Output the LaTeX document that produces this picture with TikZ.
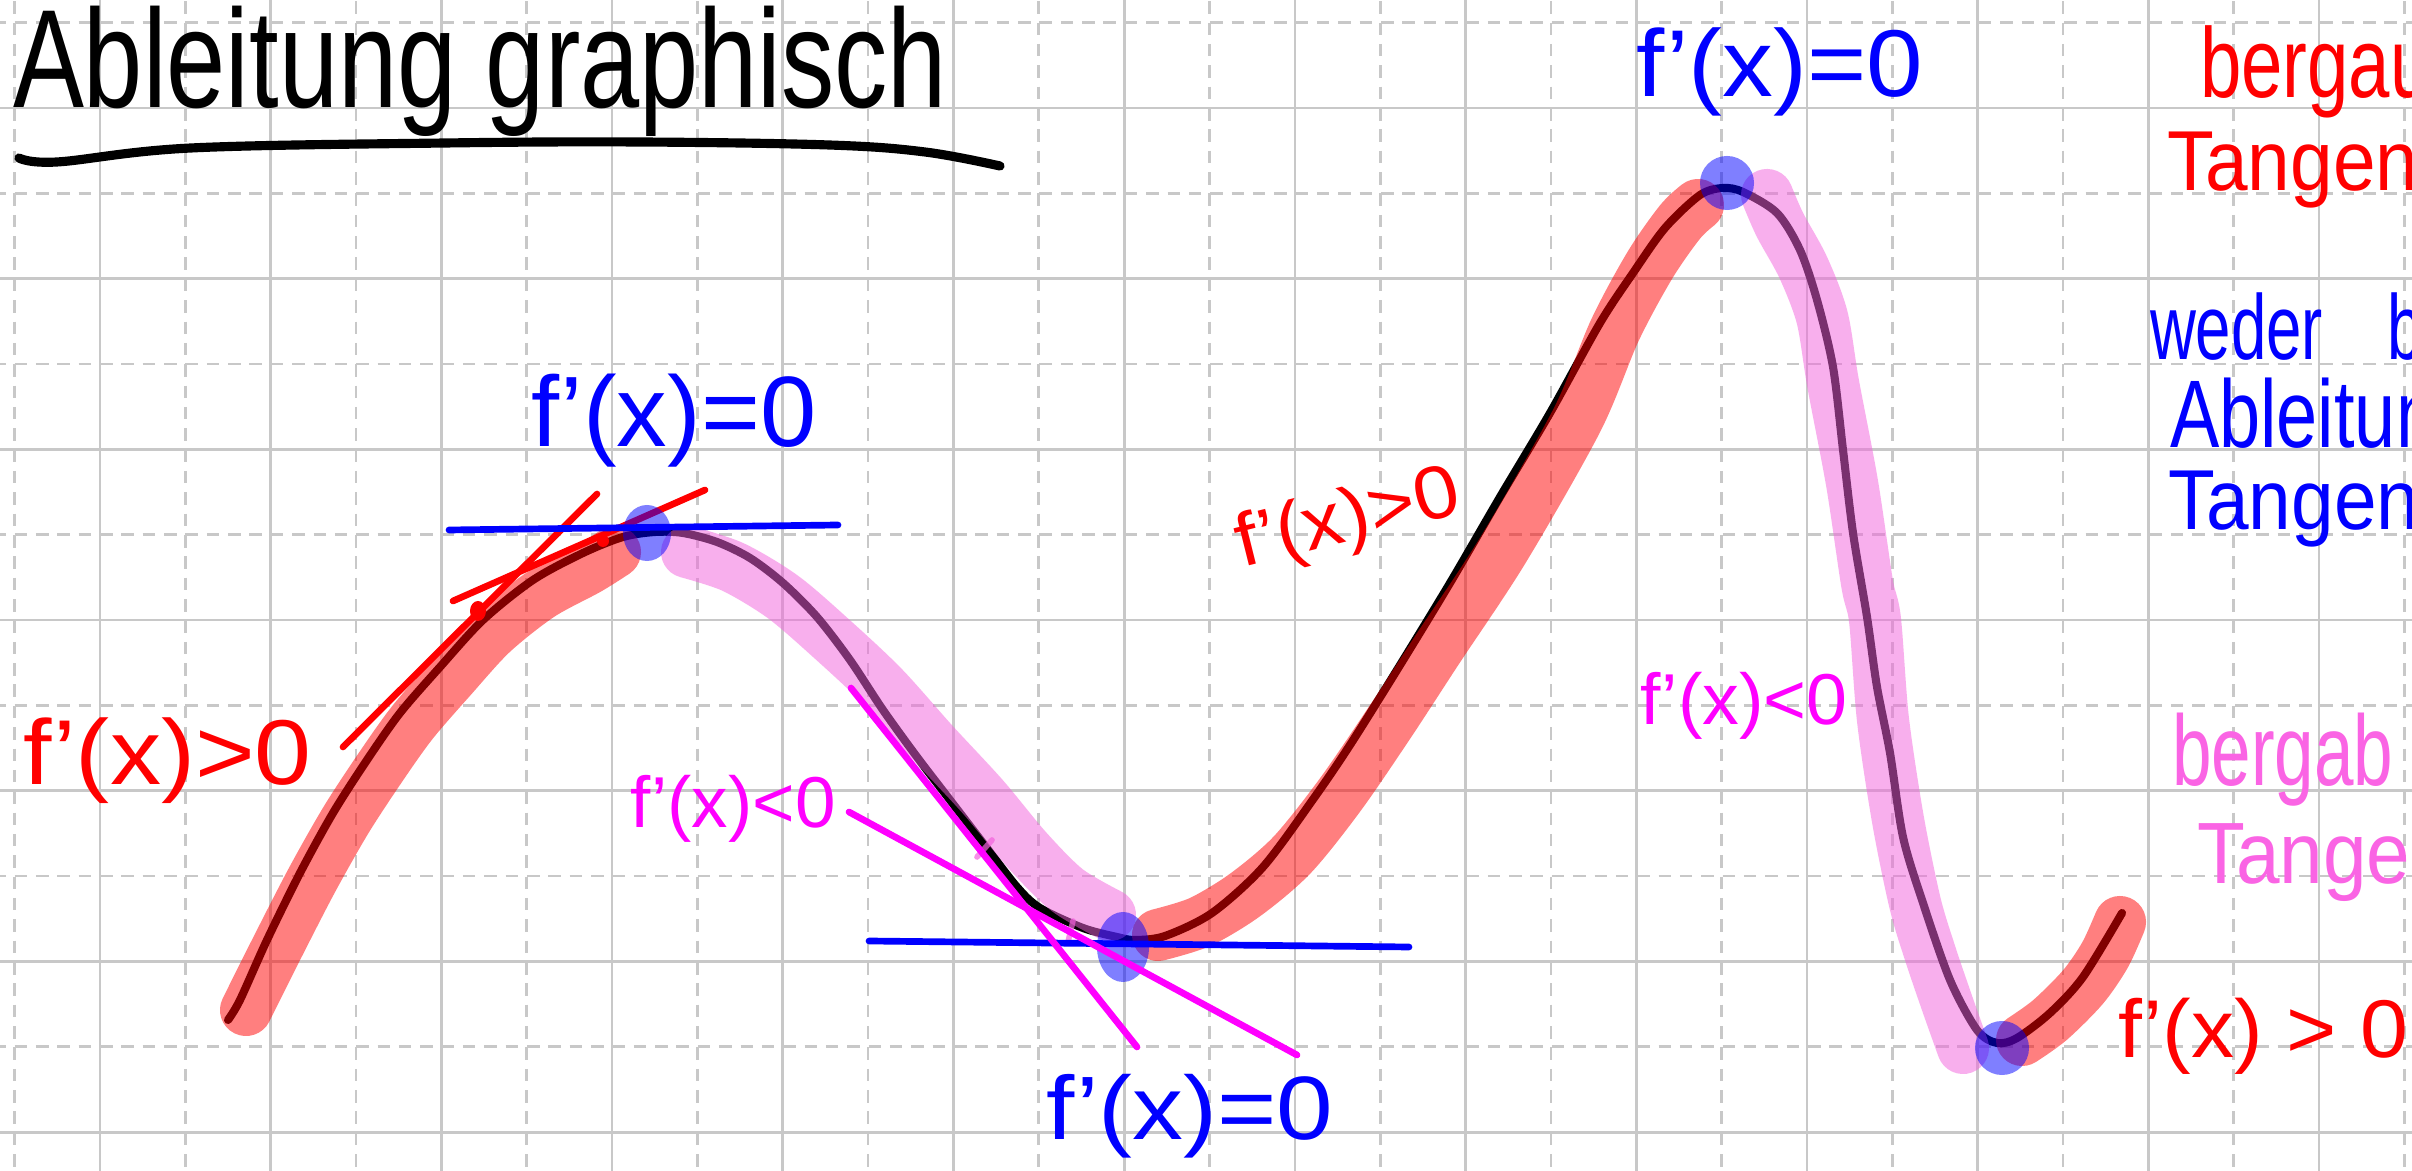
\documentclass[tikz,border=0pt]{standalone}
\usepackage{fontspec}
\setmainfont{Liberation Sans}
\definecolor{hlpink}{RGB}{243,97,221}
\definecolor{penpink}{RGB}{250,100,228}
\definecolor{penmag}{RGB}{255,0,255}
\definecolor{penred}{RGB}{255,0,0}
\definecolor{penblue}{RGB}{0,0,255}
\definecolor{gridc}{RGB}{200,200,200}
\newcommand\handtext[3]{\scalebox{#2}[1]{\fontsize{#1}{#1}\selectfont #3}}
\tikzset{
 gridsolid/.style={draw=gridc, line width=0.77pt},
 griddash/.style={draw=gridc, line width=0.77pt, dash pattern=on 3.556pt off 2.515pt},
 fcurve/.style={draw=black, line width=2.3pt, line cap=round, line join=round},
 hlr/.style={draw=penred, draw opacity=0.5, line width=14.8pt, line cap=round, line join=round},
 hlp/.style={draw=hlpink, draw opacity=0.5, line width=14.8pt, line cap=round, line join=round},
 penline/.style={line width=1.9pt, line cap=round},
 bdot/.style={fill=penblue, fill opacity=0.5},
 txt/.style={inner sep=0pt, outer sep=0pt, anchor=base west},
}
\begin{document}
\begin{tikzpicture}[x=0.01cm, y=-0.01cm]
\useasboundingbox (0,0) rectangle (2412,1171);
\clip (0,0) rectangle (2412,1171);
\fill[white] (0,0) rectangle (2412,1171);
% grid
\foreach \i in {0,...,13} \draw[gridsolid] ({100+170.7*\i},0) -- ({100+170.7*\i},1171);
\foreach \i in {0,...,14} \draw[griddash] ({14.6+170.7*\i},-62.75) -- ({14.6+170.7*\i},1171);
\foreach \j in {0,...,6} \draw[gridsolid] (0,{108+170.7*\j}) -- (2412,{108+170.7*\j});
\foreach \j in {0,...,6} \draw[griddash] (-70.75,{22.6+170.7*\j}) -- (2412,{22.6+170.7*\j});

% title
\node[txt] (title) at (13,108) {\handtext{39.8pt}{0.76}{Ableitung graphisch}};
\draw[line width=2.6pt, line cap=round] plot[smooth, tension=0.6] coordinates {(19,158) (57,162) (191,148) (446,143) (638,142) (829,145) (925,152) (1000,166)};

% function curve
\draw[fcurve] plot[smooth, tension=0.5] coordinates {(228,1020) (240,1000) (267,940) (300,873) (333,813) (367,760) (400,713) (440,667) (483,620) (533,580) (583,553) (623,537) (655,532) (683,533) (717,542) (750,558) (783,583) (817,617) (850,660) (883,710) (917,757) (950,800) (983,843) (1017,887) (1040,908) (1083,928) (1117,937) (1135,940) (1165,936) (1212,913) (1263,867) (1314,798) (1350,745) (1397,670) (1450,583) (1500,497) (1550,413) (1600,323) (1633,273) (1665,228) (1700,195) (1723,188) (1743,192) (1777,213) (1800,250) (1817,300) (1833,367) (1843,450) (1853,533) (1867,617) (1877,687) (1890,753) (1903,837) (1923,903) (1950,980) (1977,1030) (1997,1043) (2017,1038) (2050,1013) (2083,977) (2122,913)};

% red tangent lines near max1
\coordinate (ra1) at (343,747); \coordinate (ra2) at (597,494);
\coordinate (rb1) at (453,601); \coordinate (rb2) at (705,490);
\draw[penline, penred] (ra1) -- (ra2);
\draw[penline, penred] (rb1) -- (rb2);
\fill[penred] (478,611) ellipse [x radius=0.08cm, y radius=0.10cm];
\fill[penred] (603,541) circle [radius=0.06cm];

% highlighter bands
\draw[hlr] plot[smooth, tension=0.5] coordinates {(246,1010) (277,948) (312,880) (346,820) (380,768) (412,723) (451,678) (492,633) (540,595) (588,569) (615,552)};
\draw[hlp] plot[smooth, tension=0.5] coordinates {(687,552) (733,567) (783,597) (833,640) (883,687) (933,743) (983,797) (1027,850) (1067,890) (1110,915)};
\draw[hlr] plot[smooth, tension=0.5] coordinates {(1158,935) (1200,922) (1245,895) (1292,855) (1340,795) (1390,722) (1437,650) (1503,550) (1577,420) (1615,330) (1650,265) (1680,222) (1698,205)};
\draw[hlp] plot[smooth, tension=0.5] coordinates {(1767,195) (1780,225) (1803,267) (1822,317) (1833,383) (1852,483) (1867,583) (1875,620) (1883,720) (1898,820) (1915,903) (1930,953) (1947,1003) (1963,1048)};
\draw[hlr] plot[smooth, tension=0.5] coordinates {(2022,1040) (2050,1020) (2083,987) (2105,955) (2120,922)};
% small pink ticks
\draw[hlpink, opacity=0.7, line width=1.6pt, line cap=round] (977,857) -- (992,840);
\draw[hlpink, opacity=0.7, line width=1.6pt, line cap=round] (1068,942) -- (1073,921);

% extremum dots
\fill[bdot] (647,533) ellipse [x radius=0.24cm, y radius=0.28cm];
\fill[bdot] (1123,947) ellipse [x radius=0.26cm, y radius=0.35cm];
\fill[bdot] (1727,183) circle [radius=0.27cm];
\fill[bdot] (2002,1048) circle [radius=0.27cm];

% blue tangents
\coordinate (ba1) at (449,530); \coordinate (ba2) at (838,525);
\coordinate (bb1) at (869,941); \coordinate (bb2) at (1409,947);
\draw[penline, penblue] (ba1) -- (ba2);
\draw[penline, penblue] (bb1) -- (bb2);

% magenta tangents
\coordinate (ma1) at (851,688); \coordinate (ma2) at (1137,1047);
\coordinate (mb1) at (849,812); \coordinate (mb2) at (1297,1055);
\draw[penline, penmag] (ma1) -- (ma2);
\draw[penline, penmag] (mb1) -- (mb2);

% labels
\node[txt, text=penblue] (l1) at (531,447) {\handtext{28.45pt}{1.01}{f'(x)=0}};
\node[txt, text=penblue] (l2) at (1636,97) {\handtext{27pt}{1.07}{f'(x)=0}};
\node[txt, text=penblue] (l3) at (1046,1140) {\handtext{25.6pt}{1.13}{f'(x)=0}};
\node[txt, text=penred] (l4) at (23,785) {\handtext{26.2pt}{1.11}{f'(x)>0}};
\node[txt, text=penmag] (l5) at (630,828) {\handtext{20.5pt}{1.01}{f'(x)<0}};
\node[txt, text=penred, rotate=14] (l6) at (1242,568) {\handtext{21.3pt}{1.08}{f'(x)>0}};
\node[txt, text=penmag] (l7) at (1640,725) {\handtext{20.5pt}{1.02}{f'(x)<0}};
\node[txt, text=penred] (l8) at (2118,1058) {\handtext{23.3pt}{1.05}{f'(x) > 0}};

% right margin notes
\node[txt, text=penred] (r1) at (2200,98) {\handtext{28.2pt}{0.75}{bergauf}};
\node[txt, text=penred] (r2) at (2167,191) {\handtext{24.2pt}{0.9}{Tangente}};
\node[txt, text=penblue] (b1) at (2150,360) {\handtext{26.2pt}{0.69}{weder\hspace{26.4pt}bergauf}};
\node[txt, text=penblue] (b2) at (2170,448) {\handtext{27.3pt}{0.77}{Ableitung}};
\node[txt, text=penblue] (b3) at (2168,530) {\handtext{24.2pt}{0.9}{Tangente}};
\node[txt, text=penpink] (p1) at (2172,786) {\handtext{28.45pt}{0.71}{bergab}};
\node[txt, text=penpink] (p2) at (2197,884) {\handtext{24.75pt}{0.9}{Tangente}};
\end{tikzpicture}
\end{document}
